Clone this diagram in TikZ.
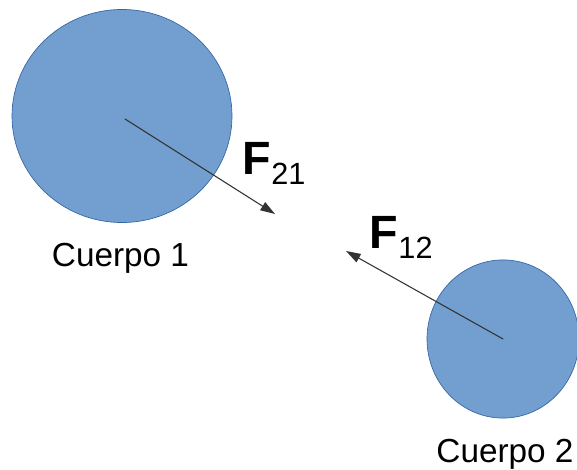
\documentclass[tikz,border=0pt]{standalone}
\usepackage{fontspec}
\setmainfont{Liberation Sans}
\usetikzlibrary{arrows.meta}
\definecolor{bodyfill}{HTML}{729FCF}
\definecolor{bodyline}{HTML}{3465A4}
\definecolor{vecline}{HTML}{333333}
\tikzset{
	body/.style={fill=bodyfill, draw=bodyline, line width=0.5pt},
	vec/.style={->, draw=vecline, line width=0.8pt},
	forcelbl/.style={inner sep=0pt, anchor=base west},
	bodylbl/.style={inner sep=0pt, anchor=base, font=\fontsize{25}{25}\selectfont},
}
\begin{document}
\begin{tikzpicture}[x=0.75pt, y=-0.75pt, line join=round, line cap=round, >={Triangle[length=11pt,width=7pt]}]
	\useasboundingbox (0,0) rectangle (577,470);
	\path
	(122,116) coordinate (B1)
	(503,339) coordinate (B2)
	(125,119) coordinate (O1)
	(275,214) coordinate (T21)
	(346,251) coordinate (T12)
	;
	\path[body] (B1) ellipse [x radius=82.5pt, y radius=79.9pt];
	\path[body] (B2) ellipse [x radius=57pt, y radius=59.3pt];
	\draw[vec] (O1) -- (T21);
	\draw[vec] (B2) -- (T12);
	\node[forcelbl] (F21) at (242.5,174.3) {\fontsize{35}{35}\selectfont\bfseries F\raisebox{-7.5pt}{\fontsize{23}{23}\selectfont\mdseries 21}};
	\node[forcelbl] (F12) at (369.7,248.7) {\fontsize{35}{35}\selectfont\bfseries F\raisebox{-7.5pt}{\fontsize{23}{23}\selectfont\mdseries 12}};
	\node[bodylbl] (L1) at (120.5,266.7) {Cuerpo 1};
	\node[bodylbl] (L2) at (505,462.3) {Cuerpo 2};
\end{tikzpicture}
\end{document}
